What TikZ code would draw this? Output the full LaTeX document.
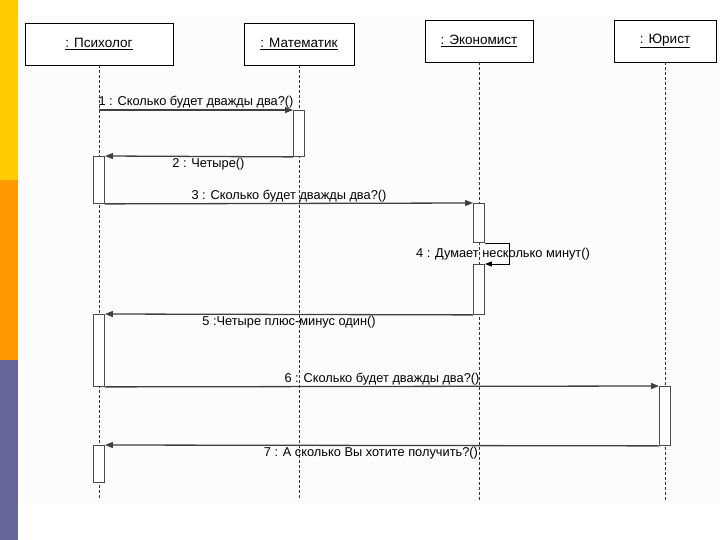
\documentclass[tikz,border=0pt]{standalone}
\usepackage{fontspec}
\setmainfont{Liberation Sans}
\usetikzlibrary{arrows.meta}
\definecolor{barY}{HTML}{FFCC00}
\definecolor{barO}{HTML}{FF9900}
\definecolor{barP}{HTML}{666699}
\definecolor{bgTint}{HTML}{FCFCFC}
\tikzset{
  obj/.style={draw=black, line width=0.9pt, fill=white, minimum height=42pt, inner sep=0pt, font=\fontsize{13.5}{15}\selectfont},
  life/.style={draw=black!80, line width=0.8pt, dash pattern=on 3pt off 2pt},
  actbar/.style={draw=black!70, line width=0.9pt, fill=white, minimum width=11pt, inner sep=0pt, anchor=north},
  msg/.style={draw=black!75, line width=1.3pt, -{Triangle[length=8pt,width=6pt]}},
  selfmsg/.style={draw=black, line width=0.8pt, -{Triangle[length=7pt,width=5pt]}},
  lbl/.style={font=\fontsize{12.8}{15}\selectfont, inner sep=1pt}
}
\begin{document}
\begin{tikzpicture}[x=1pt,y=-1pt]
\useasboundingbox (0,0) rectangle (720,540);
\fill[bgTint] (19,16) rectangle (720,503);
\fill[barY] (0,0) rectangle (18,180);
\fill[barO] (0,180) rectangle (18,360);
\fill[barP] (0,360) rectangle (18,540);
% objects
\node[obj, minimum width=148pt] (ps) at (99,44) {\underline{: Психолог}};
\node[obj, minimum width=110pt] (ma) at (299,44) {\underline{: Математик}};
\node[obj, minimum width=108pt] (ek) at (479,41) {\underline{: Экономист}};
\node[obj, minimum width=102pt] (ju) at (665,41) {\underline{: Юрист}};
% lifelines
\coordinate (psE) at (99,500);
\coordinate (maE) at (299,500);
\coordinate (ekE) at (479,500);
\coordinate (juE) at (665,500);
\draw[life] (ps.south) -- (psE);
\draw[life] (ma.south) -- (maE);
\draw[life] (ek.south) -- (ekE);
\draw[life] (ju.south) -- (juE);
% activations
\node[actbar, minimum height=46pt] (a1) at (299,110) {};
\node[actbar, minimum height=47pt] (a2) at (99,156) {};
\node[actbar, minimum height=39pt] (a3) at (479,203) {};
\node[actbar, minimum height=50pt] (a4) at (479,264) {};
\node[actbar, minimum height=72pt] (a5) at (99,314) {};
\node[actbar, minimum height=59pt] (a6) at (665,386) {};
\node[actbar, minimum height=37pt] (a7) at (99,445) {};
% messages
\draw[msg] (ps.south |- a1.north) -- node[lbl, above] {1 : Сколько будет дважды два?()} (a1.north west);
\draw[msg] (a1.south west) -- node[lbl, below, pos=0.45] {2 : Четыре()} (a2.north east);
\draw[msg] (a2.south east) -- node[lbl, above] {3 : Сколько будет дважды два?()} (a3.north west);
\draw[selfmsg] (a3.south east) -- ++(24,0) |- (a4.north east);
\node[lbl] (l4) at (503,254) {4 : Думает несколько минут()};
\draw[msg] (a4.south west) -- node[lbl, below] {5 :Четыре плюс-минус один()} (a5.north east);
\draw[msg] (a5.south east) -- node[lbl, above] {6 : Сколько будет дважды два?()} (a6.north west);
\draw[msg] (a6.south west) -- node[lbl, below, pos=0.52] {7 : А сколько Вы хотите получить?()} (a7.north east);
\end{tikzpicture}
\end{document}
